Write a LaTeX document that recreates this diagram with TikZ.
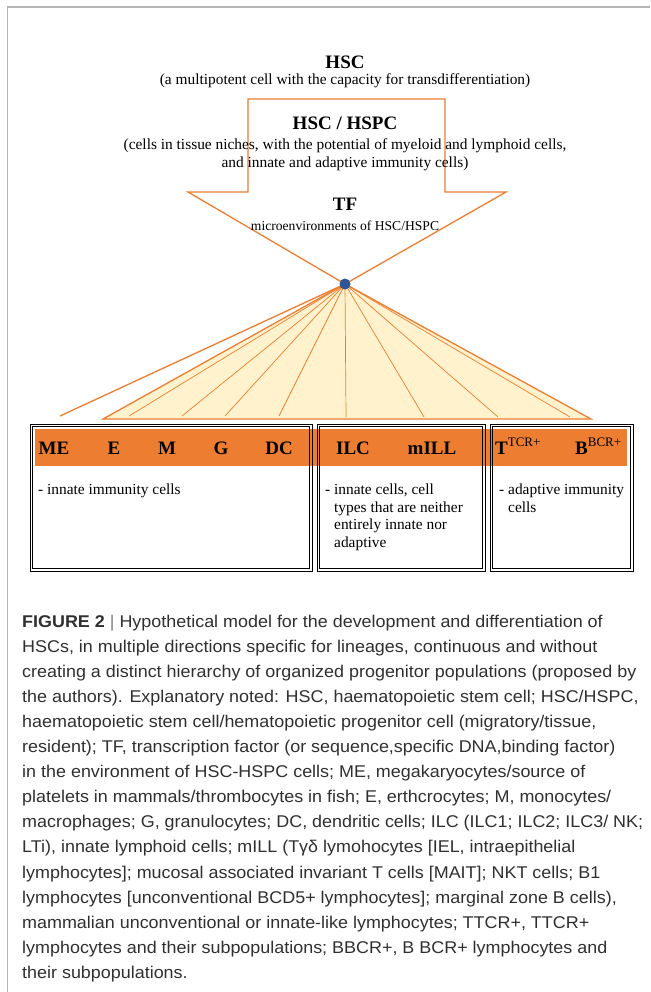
\documentclass[tikz,border=0pt]{standalone}
\usepackage{fontspec}
\setmainfont{Liberation Serif}
\newfontfamily\capfont[FakeStretch=1.055]{Liberation Sans}
\definecolor{orng}{HTML}{ED7D31}
\definecolor{fanfill}{HTML}{FFF2CC}
\definecolor{dotblue}{HTML}{2F5597}
\definecolor{framegray}{HTML}{B4B4B4}
\definecolor{captext}{HTML}{303030}
\begin{document}
\begin{tikzpicture}[x=1pt,y=-1pt,
  title/.style={inner sep=0pt, font=\fontsize{19}{21}\selectfont\bfseries},
  sub/.style={inner sep=0pt, align=center, font=\fontsize{15.4}{17.5}\selectfont},
  smalltxt/.style={inner sep=0pt, font=\fontsize{13.6}{15}\selectfont},
  orangeline/.style={draw=orng, line width=1.3pt},
  fanline/.style={draw=orng, line width=0.7pt},
  lab/.style={inner sep=0pt, font=\fontsize{19}{21}\selectfont\bfseries},
  desc/.style={inner sep=0pt, anchor=base west, font=\fontsize{15.4}{17.7}\selectfont},
  boxline/.style={draw=black, line width=0.8pt},
  captxt/.style={inner sep=0pt, anchor=base west, text=captext, font=\capfont\fontsize{17}{20}\selectfont}
]
\useasboundingbox (0,0) rectangle (650,992);
\fill[white] (0,0) rectangle (650,992);
% frame
\draw[framegray, line width=1.1pt] (7.5,992) -- (7.5,7) -- (650,7);

% big arrow
\coordinate (tip) at (345,284);
\filldraw[orangeline, fill=white] (248,99) -- (445,99) -- (445,192) -- (506,192) -- (tip) -- (188,192) -- (248,192) -- cycle;

% texts at top
\node[title] (hsc) at (345,62) {HSC};
\node[sub] (hscsub) at (345,81) {(a multipotent cell with the capacity for transdifferentiation)};
\node[title] (hspc) at (345,123) {HSC / HSPC};
\node[sub] (hspcsub) at (345,154.5) {(cells in tissue niches, with the potential of myeloid and lymphoid cells,\\and innate and adaptive immunity cells)};
\node[title] (tf) at (345,204) {TF};
\node[smalltxt] (micro) at (345,226) {microenvironments of HSC/HSPC};

% fan
\coordinate (fl) at (103,419);
\coordinate (fr) at (591,419);
\coordinate (sep) at (60,416);
\coordinate (e1) at (129,416);
\coordinate (e2) at (182,416);
\coordinate (e3) at (225,416);
\coordinate (e4) at (279,416);
\coordinate (e5) at (346,417);
\coordinate (e6) at (424,417);
\coordinate (e7) at (498,417);
\coordinate (e8) at (570,417);
\filldraw[orangeline, fill=fanfill, line join=miter] (tip) -- (fl) -- (fr) -- cycle;
\foreach \e in {e1,e2,e3,e4,e5,e6,e7,e8} \draw[fanline] (tip) -- (\e);
\draw[orangeline] (tip) -- (sep);
\node[circle, fill=dotblue, inner sep=0pt, minimum size=11pt] (dot) at (tip) {};

% band and boxes
\fill[orng] (35,429) rectangle (627,466);
\draw[boxline] (30.5,424.5) rectangle (312,571);
\draw[boxline] (32.8,426.8) rectangle (309.7,568.7);
\draw[boxline] (317,424.5) rectangle (485,571);
\draw[boxline] (319.3,426.8) rectangle (482.7,568.7);
\draw[boxline] (490,424.5) rectangle (633,571);
\draw[boxline] (492.3,426.8) rectangle (630.7,568.7);

\node[lab] (me) at (54,448) {ME};
\node[lab] (e) at (114,448) {E};
\node[lab] (m) at (167,448) {M};
\node[lab] (g) at (221,448) {G};
\node[lab] (dc) at (279,448) {DC};
\node[lab] (ilc) at (353,448) {ILC};
\node[lab] (mill) at (432,448) {mILL};
\node[lab, anchor=base west] (t) at (495,454.5) {T\raisebox{0.4em}{\fontsize{13}{14}\selectfont\mdseries TCR+}};
\node[lab, anchor=base west] (b) at (575,454.5) {B\raisebox{0.4em}{\fontsize{13}{14}\selectfont\mdseries BCR+}};

\node[desc] (d1) at (38,494.5) {- innate immunity cells};
\node[desc] (d2) at (325,494.5) {- \begin{tabular}[t]{@{}l@{}}innate cells, cell\\types that are neither\\entirely innate nor\\adaptive\end{tabular}};
\node[desc] (d3) at (499,494.5) {- \begin{tabular}[t]{@{}l@{}}adaptive immunity\\cells\end{tabular}};

% caption
\node[captxt] (c1) at (22,627) {\textbf{FIGURE 2} {\color{gray}|} Hypothetical model for the development and differentiation of};
\node[captxt] (c2) at (22,652.1) {HSCs, in multiple directions specific for lineages, continuous and without};
\node[captxt] (c3) at (22,677.2) {creating a distinct hierarchy of organized progenitor populations (proposed by};
\node[captxt] (c4) at (22,702.3) {the authors). Explanatory noted: HSC, haematopoietic stem cell; HSC/HSPC,};
\node[captxt] (c5) at (22,727.4) {haematopoietic stem cell/hematopoietic progenitor cell (migratory/tissue,};
\node[captxt] (c6) at (22,752.5) {resident); TF, transcription factor (or sequence,specific DNA,binding factor)};
\node[captxt] (c7) at (22,777.6) {in the environment of HSC-HSPC cells; ME, megakaryocytes/source of};
\node[captxt] (c8) at (22,802.7) {platelets in mammals/thrombocytes in fish; E, erthcrocytes; M, monocytes/};
\node[captxt] (c9) at (22,827.8) {macrophages; G, granulocytes; DC, dendritic cells; ILC (ILC1; ILC2; ILC3/ NK;};
\node[captxt] (c10) at (22,852.9) {LTi), innate lymphoid cells; mILL (Tγδ lymohocytes [IEL, intraepithelial};
\node[captxt] (c11) at (22,878.0) {lymphocytes]; mucosal associated invariant T cells [MAIT]; NKT cells; B1};
\node[captxt] (c12) at (22,903.1) {lymphocytes [unconventional BCD5+ lymphocytes]; marginal zone B cells),};
\node[captxt] (c13) at (22,928.2) {mammalian unconventional or innate-like lymphocytes; TTCR+, TTCR+};
\node[captxt] (c14) at (22,953.3) {lymphocytes and their subpopulations; BBCR+, B BCR+ lymphocytes and};
\node[captxt] (c15) at (22,978.4) {their subpopulations.};
\end{tikzpicture}
\end{document}
